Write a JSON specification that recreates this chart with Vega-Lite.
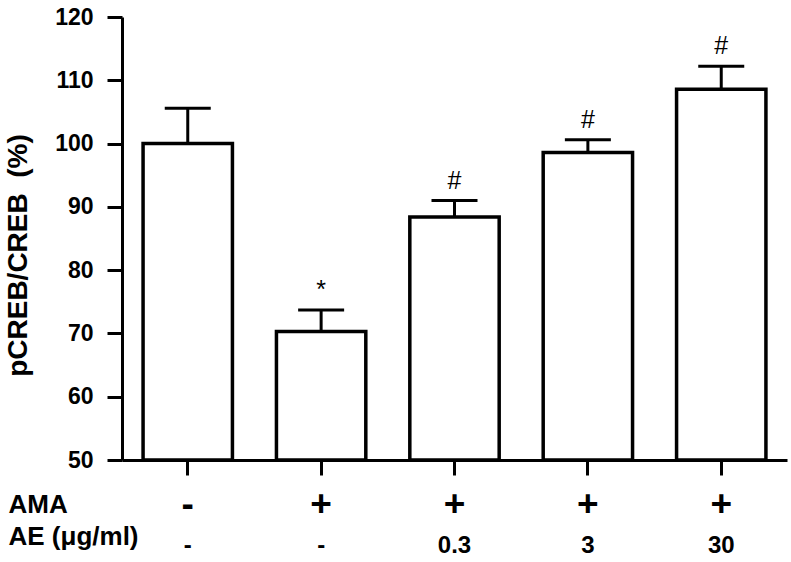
{
  "$schema": "https://vega.github.io/schema/vega-lite/v6.json",
  "width": 665,
  "height": 443,
  "autosize": "none",
  "padding": {"left": 122, "top": 17, "right": 4, "bottom": 102},
  "background": "white",
  "config": {
    "font": "Liberation Sans",
    "view": {"stroke": null},
    "axis": {"grid": false, "domainColor": "black", "tickColor": "black", "labelColor": "black", "titleColor": "black"}
  },
  "data": {
    "values": [
      {"treatment": "-|-", "mean": 100.0, "upper": 105.6, "sig": ""},
      {"treatment": "+|-", "mean": 70.3, "upper": 73.7, "sig": "*"},
      {"treatment": "+|0.3", "mean": 88.4, "upper": 91.0, "sig": "#"},
      {"treatment": "+|3", "mean": 98.6, "upper": 100.6, "sig": "#"},
      {"treatment": "+|30", "mean": 108.6, "upper": 112.2, "sig": "#"}
    ]
  },
  "resolve": {"axis": {"x": "independent"}},
  "layer": [
    {
      "mark": {"type": "bar", "fill": "white", "stroke": "black", "strokeWidth": 3.5},
      "encoding": {
        "x": {
          "field": "treatment", "type": "nominal", "sort": null,
          "scale": {"paddingInner": 0.33, "paddingOuter": 0.158},
          "axis": {
            "orient": "bottom",
            "labelExpr": "split(datum.label, '|')[0]",
            "labelAngle": 0, "labelFontSize": 37, "labelFontWeight": "bold",
            "labelBaseline": "middle", "labelPadding": 29,
            "tickSize": 15, "tickWidth": 3, "domainWidth": 3,
            "title": "AMA", "titleFontSize": 26, "titleFontWeight": "bold",
            "titleX": -114, "titleY": 44, "titleAlign": "left", "titleBaseline": "middle", "titleAngle": 0
          }
        },
        "y": {
          "field": "mean", "type": "quantitative",
          "scale": {"domain": [50, 120], "zero": false, "nice": false},
          "axis": {
            "values": [50, 60, 70, 80, 90, 100, 110, 120],
            "labelFontSize": 23, "labelFontWeight": "bold", "labelPadding": 14,
            "tickSize": 15, "tickWidth": 3, "domainWidth": 3,
            "title": "pCREB/CREB\u00a0\u00a0(%)", "titleFontSize": 28, "titleFontWeight": "bold",
            "titleX": -104, "titleY": 238, "titleAlign": "center", "titleBaseline": "middle", "titleAngle": -90
          }
        },
        "y2": {"datum": 50}
      }
    },
    {
      "mark": {"type": "rule", "color": "black", "strokeWidth": 3},
      "encoding": {
        "x": {"field": "treatment", "type": "nominal", "sort": null, "axis": null},
        "y": {"field": "mean", "type": "quantitative"},
        "y2": {"field": "upper"}
      }
    },
    {
      "mark": {"type": "tick", "color": "black", "size": 46, "thickness": 3, "orient": "horizontal", "opacity": 1},
      "encoding": {
        "x": {"field": "treatment", "type": "nominal", "sort": null, "axis": null},
        "y": {"field": "upper", "type": "quantitative"}
      }
    },
    {
      "mark": {"type": "text", "fontSize": 25, "baseline": "alphabetic", "dy": -12, "color": "black"},
      "encoding": {
        "x": {
          "field": "treatment", "type": "nominal", "sort": null,
          "axis": {
            "orient": "bottom",
            "labelExpr": "split(datum.label, '|')[1]",
            "labelAngle": 0, "labelFontSize": 24, "labelFontWeight": "bold",
            "labelBaseline": "middle", "labelPadding": 85,
            "ticks": false, "tickSize": 0, "domain": false,
            "title": "AE (μg/ml)", "titleFontSize": 26, "titleFontWeight": "bold",
            "titleX": -114, "titleY": 76, "titleAlign": "left", "titleBaseline": "middle", "titleAngle": 0
          }
        },
        "y": {"field": "upper", "type": "quantitative"},
        "text": {"field": "sig"}
      }
    }
  ]
}
